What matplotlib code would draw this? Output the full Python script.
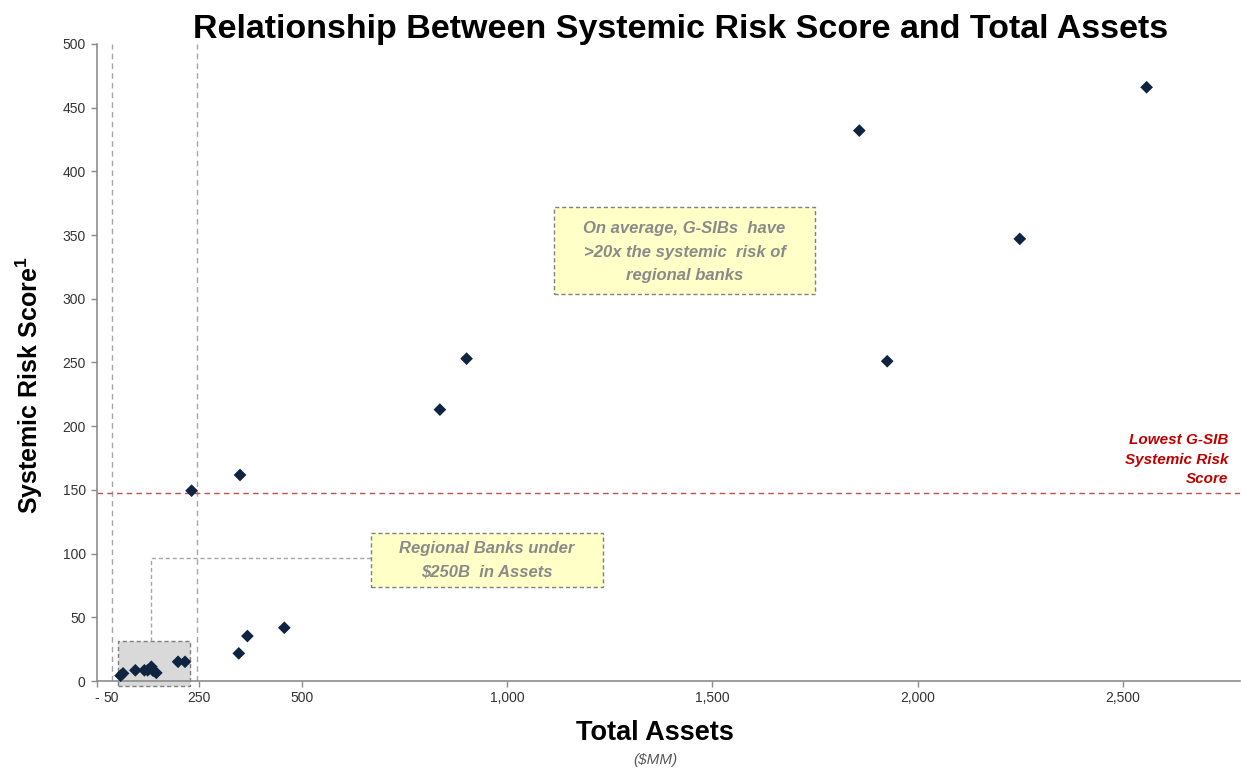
import matplotlib
matplotlib.use("Agg")
import matplotlib.pyplot as plt
from matplotlib.patches import Rectangle

plt.rcParams['font.family'] = ['Liberation Sans', 'DejaVu Sans']

# Data
total_assets = [58, 64, 94, 116, 124, 133, 137, 145, 198, 215, 231,
                346, 349, 367, 457, 836, 901, 1858, 1926, 2249, 2558]
risk_score = [4.2, 6.0, 8.4, 8.4, 8.4, 11.2, 8.1, 6.4, 15.1, 15.1, 149.4,
              21.7, 161.7, 35.3, 41.8, 213, 253, 432, 251, 347, 466]

x_ticks = [0, 250, 500, 1000, 1500, 2000, 2500]
x_tick_labels = ['-', '250', '500', '1,000', '1,500', '2,000', '2,500']
y_ticks = [0, 50, 100, 150, 200, 250, 300, 350, 400, 450, 500]
lowest_gsib = 147.8
left_line, right_line = 36, 243

fig = plt.figure(figsize=(12.41, 7.71), dpi=100)
ax = fig.add_axes([0.078, 0.1167, 0.921, 0.8263])

ax.set_xlim(0, 2785)
ax.set_ylim(0, 500)

axis_col = '#8c8c8c'
for s in ['top', 'right']:
    ax.spines[s].set_visible(False)
for s in ['left', 'bottom']:
    ax.spines[s].set_color(axis_col)
    ax.spines[s].set_linewidth(1.2)

ax.set_xticks(x_ticks)
ax.set_xticklabels(x_tick_labels)
ax.set_yticks(y_ticks)
ax.tick_params(axis='both', colors=axis_col, labelcolor='#333333',
               labelsize=10, length=4, width=1)
ax.tick_params(axis='x', pad=3)
ax.tick_params(axis='y', pad=4)
ax.annotate('50', xy=(left_line, 0), xycoords=('data', 'axes fraction'),
            xytext=(0, -7), textcoords='offset points',
            ha='center', va='top', fontsize=10, color='#333333')

# gray shaded region box
box = Rectangle((52, -4), 175, 35.6, facecolor='#d9d9d9', edgecolor='#7f7f7f',
                linestyle=(0, (3, 2)), linewidth=1, clip_on=False, zorder=1)
ax.add_patch(box)

# vertical dashed lines
ax.plot([left_line, left_line], [0, 500], color='#a6a6a6', lw=1,
        linestyle=(0, (4, 3)), zorder=0)
ax.plot([right_line, right_line], [0, 500], color='#a6a6a6', lw=1,
        linestyle=(0, (4, 3)), zorder=0)

# red horizontal line
ax.axhline(lowest_gsib, color='#c0504d', lw=1, linestyle=(0, (4, 3)), zorder=0)
ax.text(0.99, 0.306, 'Lowest G-SIB\nSystemic Risk\nScore', transform=ax.transAxes,
        ha='right', va='bottom', fontsize=11, color='#c00000',
        fontstyle='italic', fontweight='bold', linespacing=1.5)

# connector from gray box to annotation
ax.plot([133, 133, 668], [31.6, 96.3, 96.3], color='#a6a6a6', lw=1,
        linestyle=(0, (3, 2)), zorder=1)

# annotation boxes
ann1 = Rectangle((668, 74), 566, 42.4, facecolor='#ffffc8', edgecolor='#808080',
                 linestyle=(0, (3, 2)), linewidth=1, zorder=2)
ax.add_patch(ann1)
ax.text(951, 94.8, 'Regional Banks under\n$250B  in Assets', ha='center', va='center',
        fontsize=12, color='#8a8a8a', fontstyle='italic', fontweight='bold',
        linespacing=1.65, zorder=3)

ann2 = Rectangle((1115, 303.8), 634, 68.5, facecolor='#ffffc8', edgecolor='#808080',
                 linestyle=(0, (3, 2)), linewidth=1, zorder=2)
ax.add_patch(ann2)
ax.text(1432, 336.5, 'On average, G-SIBs  have\n>20x the systemic  risk of\nregional banks',
        ha='center', va='center', fontsize=12, color='#8a8a8a', fontstyle='italic',
        fontweight='bold', linespacing=1.7, zorder=3)

# scatter
ax.scatter(total_assets, risk_score, marker='D', s=42, color='#0f2440',
           zorder=4, edgecolors='none', clip_on=False)

# titles
fig.text(0.548, 0.962, 'Relationship Between Systemic Risk Score and Total Assets',
         ha='center', va='center', fontsize=24.5, fontweight='bold', color='#000000')
fig.text(0.024, 0.5, 'Systemic Risk Score$^{\\mathregular{1}}$', rotation=90,
         ha='center', va='center', fontsize=18, fontweight='bold')
fig.text(0.528, 0.049, 'Total Assets', ha='center', va='center',
         fontsize=19.5, fontweight='bold')
fig.text(0.528, 0.014, '($MM)', ha='center', va='center', fontsize=11,
         fontstyle='italic', color='#595959')

fig.savefig('out.png', dpi=100)
